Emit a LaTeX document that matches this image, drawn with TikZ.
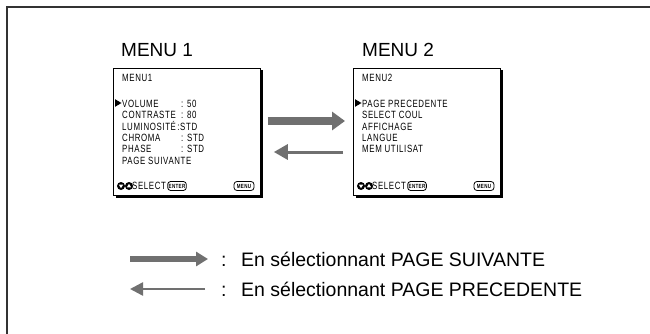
\documentclass[tikz,border=0pt]{standalone}
\usepackage{fontspec}
\setmainfont{Liberation Sans}
\newfontfamily\scrfont{Liberation Sans}[FakeStretch=0.75,LetterSpace=6]
\usetikzlibrary{arrows.meta}
\definecolor{arrowgray}{RGB}{112,112,112}
\tikzset{
  frameline/.style={line width=1.5pt,black!80},
  title/.style={anchor=base west,inner sep=0pt,font=\fontsize{19}{19}\selectfont},
  legendtext/.style={anchor=base west,inner sep=0pt,font=\fontsize{19.5}{19.5}\selectfont},
  screen/.style={draw,line width=0.8pt,fill=white,anchor=north west,
    minimum width=147,minimum height=127,inner sep=0pt},
  item/.style={anchor=base west,inner sep=0pt,font=\scrfont\fontsize{10.5}{10.5}\selectfont},
  btn/.style={draw,line width=0.8pt,rounded corners=3pt,inner xsep=1pt,inner ysep=0.5pt,
    minimum height=9,font=\scrfont\fontsize{6}{6}\bfseries\selectfont},
  thickarrow/.style={arrowgray,line width=8pt,-{Triangle[length=13pt,width=18pt]}},
  thinarrow/.style={arrowgray,line width=3pt,-{Triangle[length=14pt,width=15pt]}},
  thicklegend/.style={arrowgray,line width=6pt,-{Triangle[length=12pt,width=14pt]}},
  thinlegend/.style={arrowgray,line width=2.5pt,-{Triangle[length=13pt,width=13pt]}},
}
\newcommand{\selector}[2]{%
  % pair of round up/down keys
  \fill (#1,#2) circle (4) ([xshift=8]#1,#2) circle (4);
  \fill[white] (#1-2.2,#2-1.4) -- (#1+2.2,#2-1.4) -- (#1,#2+2.2) -- cycle;
  \fill[white] (#1+8-2.2,#2+1.4) -- (#1+8+2.2,#2+1.4) -- (#1+8,#2-2.2) -- cycle;
}
\newcommand{\marker}[2]{%
  \fill (#1,#2-3.8) -- (#1+6.5,#2) -- (#1,#2+3.8) -- cycle;
}
\begin{document}
\begin{tikzpicture}[x=1pt,y=-1pt]
\useasboundingbox (0,0) rectangle (650,334);
% outer frame (top and left edges)
\draw[frameline] (7,334) -- (7,7) -- (650,7);

% titles
\node[title] (t1) at (121,57) {MENU 1};
\node[title] (t2) at (362,57) {MENU 2};

% screens with drop shadow
\fill (115.5,70.5) rectangle (262.5,197.5);
\node[screen] (s1) at (113,68) {};
\fill (355.5,70.5) rectangle (502.5,197.5);
\node[screen] (s2) at (353,68) {};

% menu 1 contents
\node[item] (m1) at (122,82) {MENU1};
\marker{115}{103}
\node[item] (a1) at (122,107) {VOLUME};
\node[item] (a2) at (122,118.5) {CONTRASTE};
\node[item] (a3) at (122,130) {LUMINOSITÉ};
\node[item] (a4) at (122,141.5) {CHROMA};
\node[item] (a5) at (122,153) {PHASE};
\node[item] (a6) at (122,164.5) {PAGE SUIVANTE};
\node[item] (v1) at (181,107) {: 50};
\node[item] (v2) at (181,118.5) {: 80};
\node[item,anchor=base west] (v3) at ([xshift=1]a3.base east) {:STD};
\node[item] (v4) at (181,141.5) {: STD};
\node[item] (v5) at (181,153) {: STD};
\selector{121}{186}
\node[item] (sel1) at (132,189.8) {SELECT};
\node[btn,minimum width=18] (e1) at (177,186) {ENTER};
\node[btn,minimum width=20] (n1) at (244,186) {MENU};

% menu 2 contents
\node[item] (m2) at (362,82) {MENU2};
\marker{355}{103}
\node[item] (b1) at (362,107) {PAGE PRECEDENTE};
\node[item] (b2) at (362,118.5) {SELECT COUL};
\node[item] (b3) at (362,130) {AFFICHAGE};
\node[item] (b4) at (362,141.5) {LANGUE};
\node[item] (b5) at (362,153) {MEM UTILISAT};
\selector{361}{186}
\node[item] (sel2) at (372,189.8) {SELECT};
\node[btn,minimum width=18] (e2) at (417,186) {ENTER};
\node[btn,minimum width=20] (n2) at (484,186) {MENU};

% navigation arrows between the screens
\coordinate (r1) at (s1.east |- 0,121);
\coordinate (r2) at (s2.west |- 0,121);
\coordinate (l1) at (s2.west |- 0,152);
\coordinate (l2) at (s1.east |- 0,152);
\draw[thickarrow] ([xshift=7]r1) -- ([xshift=-8]r2);
\draw[thinarrow] ([xshift=-10]l1) -- ([xshift=13]l2);

% legend
\coordinate (k1) at (130,259);
\coordinate (k2) at (208,259);
\coordinate (k3) at (205,289);
\coordinate (k4) at (130,289);
\draw[thicklegend] (k1) -- (k2);
\draw[thinlegend] (k3) -- (k4);
\node[legendtext] (c1) at (221,266) {:};
\node[legendtext] (d1) at (241,266) {En sélectionnant PAGE SUIVANTE};
\node[legendtext] (c2) at (221,296) {:};
\node[legendtext] (d2) at (241,296) {En sélectionnant PAGE PRECEDENTE};
\end{tikzpicture}
\end{document}
